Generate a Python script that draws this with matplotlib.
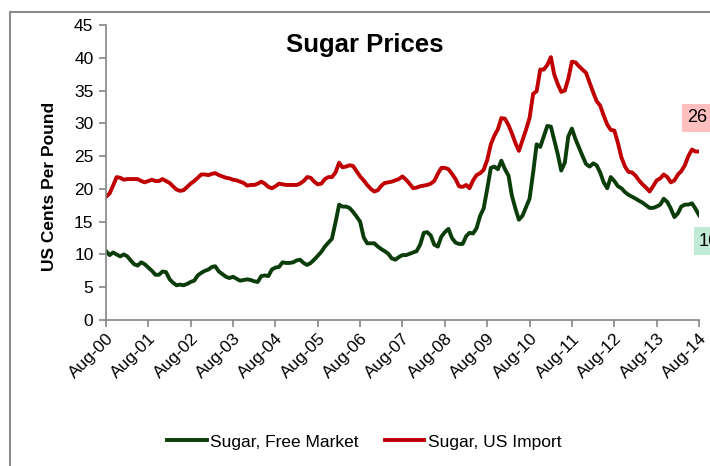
import numpy as np
import pandas as pd
import matplotlib
matplotlib.use('Agg')
import matplotlib.pyplot as plt
import matplotlib.dates as mdates
from matplotlib.patches import Rectangle

plt.rcParams['font.family'] = ['Liberation Sans', 'DejaVu Sans']

# monthly prices, Aug-2000 .. Aug-2014, US cents per pound
free_market = [
    10.5, 9.9, 10.3, 10.0, 9.7, 10.0, 9.7, 9.1, 8.5, 8.3, 8.8, 8.5,
    8.0, 7.5, 6.9, 6.9, 7.4, 7.3, 6.2, 5.7, 5.3, 5.4, 5.3, 5.5,
    5.8, 6.0, 6.8, 7.2, 7.5, 7.7, 8.1, 8.2, 7.4, 7.0, 6.6, 6.4,
    6.6, 6.3, 6.0, 6.1, 6.2, 6.1, 5.9, 5.8, 6.7, 6.8, 6.7, 7.7,
    8.0, 8.1, 8.8, 8.7, 8.7, 8.8, 9.1, 9.2, 8.7, 8.4, 8.7, 9.2,
    9.8, 10.4, 11.2, 11.8, 12.4, 14.9, 17.6, 17.3, 17.3, 17.1, 16.5, 15.8,
    15.0, 12.6, 11.7, 11.7, 11.7, 11.2, 10.8, 10.5, 10.1, 9.4, 9.2, 9.6,
    9.9, 9.9, 10.1, 10.3, 10.5, 11.5, 13.3, 13.4, 12.9, 11.5, 11.2, 12.7,
    13.4, 13.9, 12.5, 11.8, 11.6, 11.6, 12.8, 13.3, 13.2, 14.0, 15.9, 17.0,
    20.0, 23.2, 23.4, 23.0, 24.3, 23.0, 22.0, 19.0, 17.0, 15.3, 15.9, 17.2,
    18.5, 22.5, 26.8, 26.4, 28.0, 29.6, 29.5, 27.5, 25.3, 22.8, 24.0, 28.0,
    29.2, 27.6, 26.3, 25.0, 23.8, 23.4, 23.9, 23.6, 22.5, 21.0, 20.1, 21.8,
    21.2, 20.4, 20.1, 19.5, 19.1, 18.8, 18.5, 18.2, 17.9, 17.5, 17.1, 17.1,
    17.3, 17.6, 18.5, 18.0, 17.0, 15.7, 16.3, 17.3, 17.6, 17.6, 17.8, 17.0,
    16.0,
]
us_import = [
    18.8, 19.3, 20.5, 21.8, 21.7, 21.4, 21.5, 21.5, 21.5, 21.5, 21.2, 21.0,
    21.2, 21.4, 21.2, 21.2, 21.5, 21.2, 20.9, 20.4, 19.9, 19.7, 19.8, 20.3,
    20.8, 21.2, 21.7, 22.2, 22.2, 22.1, 22.3, 22.4, 22.1, 21.9, 21.7, 21.6,
    21.4, 21.3, 21.1, 20.9, 20.5, 20.6, 20.6, 20.8, 21.1, 20.8, 20.3, 20.1,
    20.4, 20.8, 20.7, 20.6, 20.6, 20.6, 20.6, 20.8, 21.2, 21.8, 21.7, 21.1,
    20.7, 20.8, 21.5, 21.8, 21.8, 22.5, 24.0, 23.3, 23.4, 23.6, 23.5, 22.7,
    21.9, 21.3, 20.6, 20.0, 19.6, 19.8, 20.5, 20.9, 21.0, 21.1, 21.3, 21.5,
    21.9, 21.4, 20.8, 20.1, 20.2, 20.4, 20.5, 20.6, 20.8, 21.2, 22.3, 23.2,
    23.2, 23.0, 22.3, 21.5, 20.4, 20.3, 20.6, 20.1, 21.3, 22.1, 22.4, 22.9,
    24.4, 26.8, 28.1, 29.1, 30.8, 30.7, 29.7, 28.5, 27.0, 25.8, 27.4, 29.0,
    30.8, 34.5, 34.9, 38.2, 38.2, 38.9, 40.1, 37.5, 36.0, 34.8, 35.0, 36.8,
    39.4, 39.3, 38.7, 38.2, 37.7, 36.2, 34.7, 33.4, 32.7, 31.2, 29.8, 29.0,
    28.9, 27.0, 24.8, 23.4, 22.6, 22.5, 22.0, 21.3, 20.7, 20.2, 19.6, 20.4,
    21.3, 21.6, 22.2, 21.8, 21.0, 21.3, 22.2, 22.7, 23.6, 25.0, 26.0, 25.7,
    25.7,
]
last_import = '26'
last_free = '16'
series_names = ['Sugar, Free Market', 'Sugar, US Import']

dates = pd.date_range('2000-08-01', periods=len(free_market), freq='MS')

fig = plt.figure(figsize=(7.1, 4.66), dpi=100)
ax = fig.add_axes([106/710, 1-320/466, 593/710, 295/466])

ax.plot(dates, free_market, color='#0b3d0b', lw=2.8, label=series_names[0], solid_joinstyle='round')
ax.plot(dates, us_import, color='#c00000', lw=2.8, label=series_names[1], solid_joinstyle='round')

ax.set_ylim(0, 45)
ax.set_yticks(range(0, 46, 5))
ax.set_xlim(dates[0], dates[-1])
ax.xaxis.set_major_locator(mdates.MonthLocator(bymonth=8))
ax.xaxis.set_major_formatter(mdates.DateFormatter('%b-%y'))

for s in ['top', 'right']:
    ax.spines[s].set_visible(False)
for s in ['left', 'bottom']:
    ax.spines[s].set_color('#868686')
    ax.spines[s].set_linewidth(1.2)
ax.tick_params(axis='both', colors='#868686', length=5, width=1.2, labelcolor='black')
ax.tick_params(axis='y', labelsize=12.5, pad=4)
ax.tick_params(axis='x', labelsize=12.5, pad=3)
for lab in ax.get_xticklabels():
    lab.set_rotation(45)
    lab.set_ha('right')
    lab.set_va('top')
    lab.set_rotation_mode('anchor')

fig.text(365/710, 1-45/466, 'Sugar Prices', ha='center', va='center', fontsize=18.5,
         fontweight='bold')
fig.text(50/710, 1-186/466, 'US Cents Per Pound', rotation=90, ha='center', va='center',
         fontsize=12.5, fontweight='bold')

fig.text(687/710, 1-118/466, last_import, ha='left', va='center', fontsize=13,
         bbox=dict(boxstyle='square,pad=0.3', fc='#ffbfbf', ec='none'))
fig.text(699/710, 1-241/466, last_free, ha='left', va='center', fontsize=13,
         bbox=dict(boxstyle='square,pad=0.3', fc='#c0ead4', ec='none'))

fig.legend(loc='center', bbox_to_anchor=(364/710, 1-442/466), ncol=2, frameon=False,
           fontsize=12.5, handlelength=2.3, handletextpad=0.2, columnspacing=1.5)

fig.patches.append(Rectangle((10/710, -0.1), 1.2, 0.1 + 1-12.5/466, transform=fig.transFigure,
                             fill=False, ec='#8c8c8c', lw=1.5))

fig.savefig('out.png', dpi=100)
